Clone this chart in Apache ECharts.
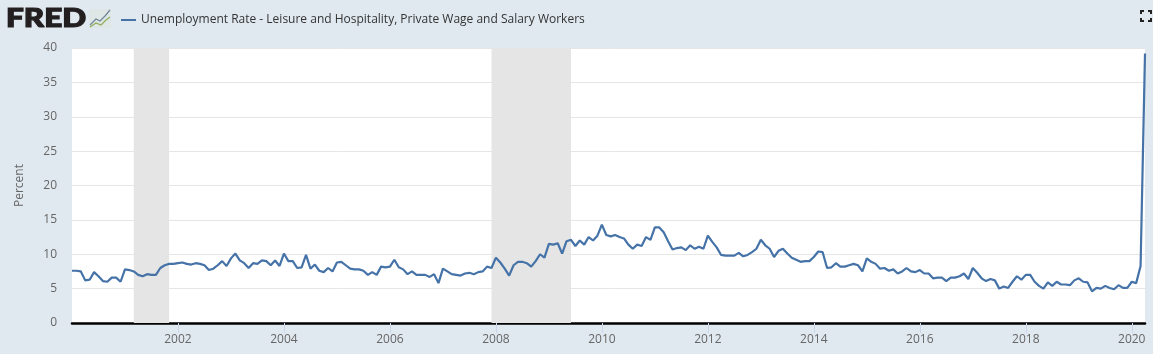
<!DOCTYPE html>
<html>
<head>
<meta charset="utf-8">
<title>FRED</title>
<script src="https://cdn.jsdelivr.net/npm/echarts@6/dist/echarts.min.js"></script>
<style>
html, body { margin: 0; padding: 0; background: #e1e9f0; }
#main { width: 1153px; height: 354px; }
</style>
</head>
<body>
<div id="main"></div>
<script>
var seriesName = 'Unemployment Rate - Leisure and Hospitality, Private Wage and Salary Workers';
var startYear = 2000;
// monthly values, one row per year
var rates = [
    7.6, 7.6, 7.5, 6.2, 6.3, 7.4, 6.8, 6.1, 6.0, 6.6, 6.6, 6.0,
    7.8, 7.7, 7.5, 7.0, 6.8, 7.1, 7.0, 7.0, 8.0, 8.4, 8.6, 8.6,
    8.7, 8.8, 8.6, 8.5, 8.7, 8.6, 8.4, 7.7, 7.9, 8.4, 9.0, 8.3,
    9.4, 10.1, 9.1, 8.7, 8.0, 8.7, 8.6, 9.1, 9.0, 8.4, 9.1, 8.3,
    10.1, 9.0, 9.0, 8.0, 8.1, 9.9, 7.9, 8.5, 7.6, 7.4, 8.0, 7.5,
    8.8, 8.9, 8.4, 7.9, 7.8, 7.8, 7.6, 7.0, 7.4, 7.0, 8.2, 8.1,
    8.2, 9.2, 8.1, 7.8, 7.1, 7.5, 7.0, 7.0, 7.0, 6.7, 7.1, 5.8,
    7.9, 7.5, 7.1, 7.0, 6.9, 7.2, 7.3, 7.1, 7.4, 7.5, 8.2, 8.0,
    9.5, 8.8, 7.9, 6.9, 8.4, 8.9, 8.9, 8.7, 8.2, 9.0, 10.0, 9.5,
    11.5, 11.4, 11.6, 10.1, 11.9, 12.1, 11.2, 12.0, 11.4, 12.5, 12.0, 12.7,
    14.3, 12.8, 12.6, 12.8, 12.5, 12.3, 11.4, 10.8, 11.4, 11.2, 12.5, 12.1,
    13.9, 13.9, 13.2, 11.9, 10.7, 10.9, 11.0, 10.6, 11.3, 10.8, 11.1, 10.8,
    12.7, 11.8, 11.0, 9.9, 9.8, 9.8, 9.8, 10.2, 9.7, 9.9, 10.3, 10.8,
    12.1, 11.3, 10.8, 9.6, 10.5, 10.8, 10.1, 9.5, 9.2, 8.9, 9.0, 9.0,
    9.6, 10.4, 10.3, 8.0, 8.1, 8.7, 8.2, 8.2, 8.4, 8.6, 8.4, 7.5,
    9.4, 8.9, 8.6, 7.9, 8.0, 7.6, 7.8, 7.2, 7.5, 8.0, 7.5, 7.4,
    7.7, 7.2, 7.2, 6.5, 6.6, 6.6, 6.1, 6.6, 6.6, 6.8, 7.2, 6.4,
    8.0, 7.3, 6.5, 6.1, 6.4, 6.2, 5.0, 5.3, 5.1, 6.0, 6.8, 6.3,
    7.0, 7.0, 6.0, 5.4, 5.0, 5.9, 5.4, 6.0, 5.6, 5.6, 5.5, 6.2,
    6.5, 6.0, 5.9, 4.6, 5.1, 5.0, 5.4, 5.1, 4.9, 5.5, 5.1, 5.1,
    6.0, 5.8, 8.3, 39.2
];
var recessions = [
    ['2001-03', '2001-11'],
    ['2007-12', '2009-06']
];
var tickYears = [2002, 2004, 2006, 2008, 2010, 2012, 2014, 2016, 2018, 2020];
var yTicks = { min: 0, max: 40, step: 5 };

var months = rates.map(function (v, i) {
    var m = i % 12 + 1;
    return (startYear + Math.floor(i / 12)) + '-' + (m < 10 ? '0' + m : m);
});
var bands = recessions.map(function (r) {
    return [{ xAxis: r[0] }, { xAxis: r[1] }];
});
function isYearTick(index, name) {
    return name.slice(5) === '01' && tickYears.indexOf(+name.slice(0, 4)) >= 0;
}

var myChart = echarts.init(document.getElementById('main'));
var textFont = '"Open Sans", sans-serif';
var option = {
    animation: false,
    backgroundColor: '#e1e9f0',
    grid: {
        left: 72,
        right: 8,
        top: 48,
        bottom: 31,
        show: true,
        backgroundColor: '#fff',
        borderWidth: 0
    },
    legend: {
        left: 116,
        top: 9,
        icon: 'rect',
        itemWidth: 15,
        itemHeight: 2,
        itemGap: 0,
        textStyle: {
            color: '#333',
            fontFamily: textFont,
            fontSize: 12
        }
    },
    xAxis: {
        type: 'category',
        data: months,
        boundaryGap: false,
        axisLine: {
            show: true,
            lineStyle: { color: '#000', width: 2.5 }
        },
        axisTick: {
            show: true,
            length: 10,
            interval: isYearTick,
            lineStyle: { color: '#ccd6eb', width: 1 }
        },
        axisLabel: {
            interval: isYearTick,
            margin: 11,
            color: '#666',
            fontFamily: textFont,
            fontSize: 12,
            formatter: function (val) {
                return val.slice(0, 4);
            }
        },
        splitLine: { show: false }
    },
    yAxis: {
        type: 'value',
        min: yTicks.min,
        max: yTicks.max,
        interval: yTicks.step,
        name: 'Percent',
        nameLocation: 'middle',
        nameGap: 46,
        nameRotate: 90,
        nameTextStyle: {
            color: '#666',
            fontFamily: textFont,
            fontSize: 12
        },
        axisLine: { show: false },
        axisTick: { show: false },
        axisLabel: {
            margin: 15,
            color: '#666',
            fontFamily: textFont,
            fontSize: 12
        },
        splitLine: {
            lineStyle: { color: '#e6e6e6', width: 1 }
        }
    },
    series: [{
        name: seriesName,
        type: 'line',
        data: rates,
        showSymbol: false,
        smooth: false,
        color: '#4572a7',
        lineStyle: { color: '#4572a7', width: 2.2 },
        markArea: {
            silent: true,
            itemStyle: { color: '#e5e5e5' },
            data: bands
        }
    }],
    graphic: [
        // FRED logo
        {
            type: 'text',
            x: 6,
            y: 6,
            scaleX: 1.21,
            style: {
                text: 'FRED',
                fill: '#231f20',
                stroke: '#231f20',
                lineWidth: 1.2,
                font: '900 26px Lato, "Liberation Sans", sans-serif'
            }
        },
        {
            type: 'rect',
            shape: { x: 89, y: 9, width: 22, height: 19 },
            style: { fill: '#dfe6e6' }
        },
        {
            type: 'polyline',
            shape: { points: [[90, 25], [96, 19], [100, 21], [105, 16], [110, 10]] },
            style: { stroke: '#6f8599', lineWidth: 1.2, fill: null }
        },
        {
            type: 'polyline',
            shape: { points: [[90, 27], [96, 23], [101, 25], [106, 20], [110, 17]] },
            style: { stroke: '#8fae5a', lineWidth: 1.2, fill: null }
        },
        // full screen button corners
        { type: 'polyline', shape: { points: [[1141, 14], [1141, 11], [1144, 11]] }, style: { stroke: '#222', lineWidth: 2, fill: null } },
        { type: 'polyline', shape: { points: [[1148, 11], [1151, 11], [1151, 14]] }, style: { stroke: '#222', lineWidth: 2, fill: null } },
        { type: 'polyline', shape: { points: [[1141, 18], [1141, 21], [1144, 21]] }, style: { stroke: '#222', lineWidth: 2, fill: null } },
        { type: 'polyline', shape: { points: [[1148, 21], [1151, 21], [1151, 18]] }, style: { stroke: '#222', lineWidth: 2, fill: null } }
    ]
};
myChart.setOption(option);
</script>
</body>
</html>
